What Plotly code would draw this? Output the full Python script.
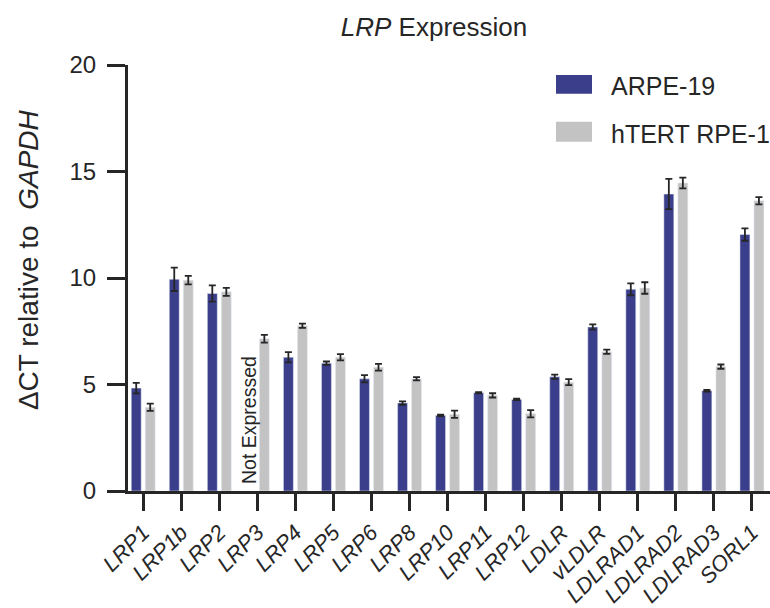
import plotly.graph_objects as go

# Genes (x categories)
genes = ["LRP1", "LRP1b", "LRP2", "LRP3", "LRP4", "LRP5", "LRP6", "LRP8",
         "LRP10", "LRP11", "LRP12", "LDLR", "vLDLR", "LDLRAD1", "LDLRAD2",
         "LDLRAD3", "SORL1"]

# Mean ΔCT relative to GAPDH and error (SEM) per cell line
series_names = ["ARPE-19", "hTERT RPE-1"]
arpe19 = [4.83, 9.94, 9.27, None, 6.28, 6.00, 5.27, 4.13, 3.55, 4.61, 4.30,
          5.36, 7.70, 9.47, 13.94, 4.71, 12.04]
arpe19_err = [0.25, 0.55, 0.38, None, 0.24, 0.08, 0.17, 0.08, 0.03, 0.03, 0.03,
              0.10, 0.12, 0.28, 0.71, 0.04, 0.29]
htert = [3.93, 9.90, 9.35, 7.15, 7.76, 6.28, 5.81, 5.27, 3.60, 4.49, 3.63,
         5.11, 6.54, 9.53, 14.46, 5.84, 13.63]
htert_err = [0.17, 0.20, 0.19, 0.18, 0.10, 0.15, 0.16, 0.08, 0.17, 0.10, 0.17,
             0.14, 0.10, 0.27, 0.25, 0.10, 0.17]

y_ticks = [0, 5, 10, 15, 20]

BLUE = "#3b3f8b"
GREY = "#c3c3c3"
INK = "#262626"
FONT = "Liberation Sans, Arial, sans-serif"

W, H = 770, 608
ML, MR, MT, MB = 128, 0, 65, 115
PW, PH = W - ML - MR, H - MT - MB


def px_x(px):
    """Pixel column -> paper x."""
    return (px - ML) / PW


def px_y(py):
    """Pixel row -> paper y."""
    return (H - MB - py) / PH


err_style = dict(type="data", color=INK, thickness=1.8, width=3.5, visible=True)

fig = go.Figure()
fig.add_trace(go.Bar(
    x=genes, y=arpe19, name=series_names[0], marker_color=BLUE,
    error_y=dict(array=arpe19_err, **err_style), showlegend=False,
))
fig.add_trace(go.Bar(
    x=genes, y=htert, name=series_names[1], marker_color=GREY,
    error_y=dict(array=htert_err, **err_style), showlegend=False,
))

# Legend drawn as swatches + labels
colors = [BLUE, GREY]
sw_rows = [(75, 94), (122, 142)]
shapes = []
annotations = []
for name, col, (top, bot) in zip(series_names, colors, sw_rows):
    shapes.append(dict(type="rect", xref="paper", yref="paper",
                       x0=px_x(556), x1=px_x(592), y0=px_y(bot), y1=px_y(top),
                       fillcolor=col, line=dict(width=0)))
    annotations.append(dict(xref="paper", yref="paper", x=px_x(609),
                            y=px_y((top + bot) / 2 + 2), xanchor="left",
                            yanchor="middle", text=name, showarrow=False,
                            font=dict(family=FONT, size=25, color=INK)))

# Y-axis title
annotations.append(dict(xref="paper", yref="paper", x=px_x(28), y=px_y(261),
                        xanchor="center", yanchor="middle", textangle=-90,
                        text="ΔCT relative to\u00a0\u00a0<i>GAPDH</i>",
                        showarrow=False,
                        font=dict(family=FONT, size=28, color=INK)))

# LRP3 has no ARPE-19 signal
annotations.append(dict(x="LRP3", y=0.25, xref="x", yref="y", xshift=-9,
                        xanchor="center", yanchor="bottom", textangle=-90,
                        text="Not Expressed", showarrow=False,
                        font=dict(family=FONT, size=19.5, color=INK)))

fig.update_layout(
    width=W, height=H,
    margin=dict(l=ML, r=MR, t=MT, b=MB, pad=0),
    paper_bgcolor="white", plot_bgcolor="white",
    barmode="group", bargap=0.264, bargroupgap=0.29,
    font=dict(family=FONT, color=INK),
    title=dict(text="<i>LRP</i> Expression", x=434 / W, xanchor="center",
               y=1 - 27 / H, yanchor="middle",
               font=dict(family=FONT, size=26, color=INK)),
    shapes=shapes,
    annotations=annotations,
)

fig.update_xaxes(
    type="category", range=[-0.40, 16.475],
    tickvals=genes, ticktext=[f"<i>{g}</i>" for g in genes],
    tickangle=-45, tickfont=dict(family=FONT, size=22, color=INK),
    ticks="outside", ticklen=17, tickwidth=3, tickcolor=INK,
    showline=True, linewidth=3, linecolor=INK,
    showgrid=False, zeroline=False,
)
fig.update_yaxes(
    range=[0, 20], tickvals=y_ticks, ticktext=[str(v) for v in y_ticks],
    tickfont=dict(family=FONT, size=24, color=INK), ticklabelstandoff=6,
    ticks="outside", ticklen=18, tickwidth=3, tickcolor=INK,
    showline=True, linewidth=3, linecolor=INK,
    showgrid=False, zeroline=False,
)

fig.write_html("out.html")
